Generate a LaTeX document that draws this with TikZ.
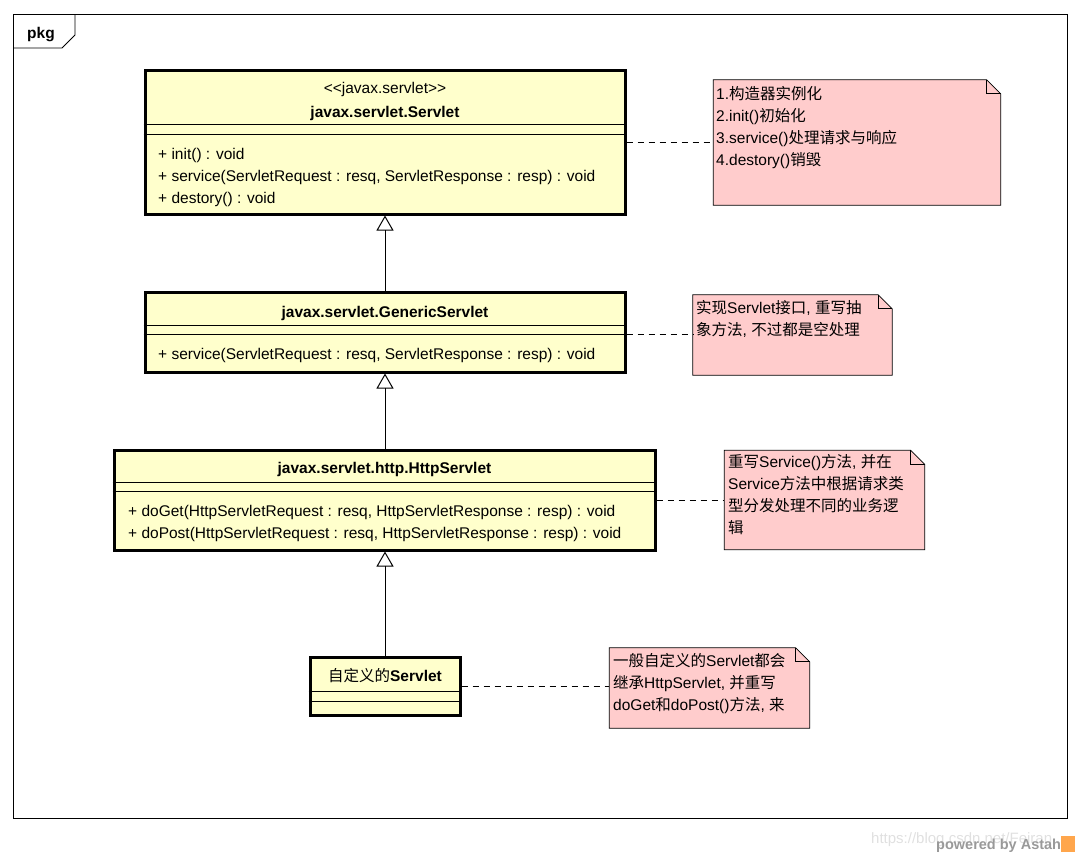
\documentclass[tikz,border=0pt]{standalone}
\usepackage{fontspec}
\setmainfont{Liberation Sans}
\newfontfamily\cjk{Noto Sans CJK SC}
\usepackage{tikz}
\usetikzlibrary{arrows.meta}

\definecolor{classyellow}{HTML}{FFFFCC}
\definecolor{notepink}{HTML}{FFCCCC}

\newcommand{\zh}[1]{{\cjk\mdseries #1}}
% dog-eared note drawn round an empty node
\newcommand{\notefold}[1]{%
  \draw[notebg] (#1.north west) -- ([xshift=-14pt]#1.north east) -- ([yshift=-14pt]#1.north east)
    -- (#1.south east) -- (#1.south west) -- cycle;
  \draw[line width=0.8pt] ([xshift=-14pt]#1.north east) |- ([yshift=-14pt]#1.north east);
}

\begin{document}
\begin{tikzpicture}[x=1pt, y=-1pt,
    cls/.style={draw, line width=3pt, fill=classyellow, inner sep=0},
    notebox/.style={inner sep=0},
    notebg/.style={draw, fill=notepink, line width=0.8pt},
    txt/.style={inner sep=0, text height=11pt, text depth=0pt, font=\fontsize{15.5}{22}\selectfont},
    clsname/.style={txt, font=\fontsize{15.5}{22}\selectfont\bfseries},
    inherit/.style={-{Triangle[open, length=15pt, width=17pt]}, line width=1pt},
    link/.style={dash pattern=on 6pt off 5pt, line width=1pt}]
        \useasboundingbox (0,0) rectangle (1080,857);

        % package frame
        \draw[line width=0.8pt] (13,14) rectangle (1067,818);
        \draw[line width=0.8pt] (13,48) -- (62,48) -- (75,35) -- (75,14);
        \node[clsname] (pkg) at (41,33) {pkg};

        % classes
        \node[cls, minimum width=480pt, minimum height=144pt] (servlet) at (385,142) {};
        \draw (servlet.west |- 0,124) -- (servlet.east |- 0,124);
        \draw (servlet.west |- 0,134) -- (servlet.east |- 0,134);
        \node[txt] (s-stereo) at (385,88) {<{}<javax.servlet>{}>};
        \node[clsname] (s-name) at (385,112) {javax.servlet.Servlet};
        \node[txt, anchor=west] (s-init) at (158,154) {+ init() : void};
        \node[txt, anchor=west] (s-service) at (158,176) {+ service(ServletRequest : resq, ServletResponse : resp) : void};
        \node[txt, anchor=west] (s-destory) at (158,198) {+ destory() : void};

        \node[cls, minimum width=480pt, minimum height=80pt] (generic) at (385,332) {};
        \draw (generic.west |- 0,325) -- (generic.east |- 0,325);
        \draw (generic.west |- 0,334) -- (generic.east |- 0,334);
        \node[clsname] (g-name) at (385,312) {javax.servlet.GenericServlet};
        \node[txt, anchor=west] (g-service) at (158,354) {+ service(ServletRequest : resq, ServletResponse : resp) : void};

        \node[cls, minimum width=541pt, minimum height=100pt] (http) at (384.5,500) {};
        \draw (http.west |- 0,482) -- (http.east |- 0,482);
        \draw (http.west |- 0,491) -- (http.east |- 0,491);
        \node[clsname] (h-name) at (384.5,468) {javax.servlet.http.HttpServlet};
        \node[txt, anchor=west] (h-doget) at (128,511) {+ doGet(HttpServletRequest : resq, HttpServletResponse : resp) : void};
        \node[txt, anchor=west] (h-dopost) at (128,533) {+ doPost(HttpServletRequest : resq, HttpServletResponse : resp) : void};

        \node[cls, minimum width=150pt, minimum height=58pt] (custom) at (385,686) {};
        \draw (custom.west |- 0,691) -- (custom.east |- 0,691);
        \draw (custom.west |- 0,701) -- (custom.east |- 0,701);
        \node[clsname] (c-name) at (385,676) {\zh{自定义的}Servlet};

        % generalizations
        \draw[inherit] (generic.north) -- (servlet.south);
        \draw[inherit] (http.north -| generic.south) -- (generic.south);
        \draw[inherit] (custom.north) -- (custom.north |- http.south);

        % notes
        \node[notebox, minimum width=287pt, minimum height=125pt] (n1) at (857,142.5) {};
        \notefold{n1}
        \node[txt, anchor=west] (n1-a) at (716,94) {1.\zh{构造器实例化}};
        \node[txt, anchor=west] (n1-b) at (716,116) {2.init()\zh{初始化}};
        \node[txt, anchor=west] (n1-c) at (716,138) {3.service()\zh{处理请求与响应}};
        \node[txt, anchor=west] (n1-d) at (716,160) {4.destory()\zh{销毁}};

        \node[notebox, minimum width=199pt, minimum height=80pt] (n2) at (792.5,335) {};
        \notefold{n2}
        \node[txt, anchor=west] (n2-a) at (696,308) {\zh{实现}Servlet\zh{接口}, \zh{重写抽}};
        \node[txt, anchor=west] (n2-b) at (696,330) {\zh{象方法}, \zh{不过都是空处理}};

        \node[notebox, minimum width=200pt, minimum height=99pt] (n3) at (824.5,500) {};
        \notefold{n3}
        \node[txt, anchor=west] (n3-a) at (728,462) {\zh{重写}Service()\zh{方法}, \zh{并在}};
        \node[txt, anchor=west] (n3-b) at (728,484) {Service\zh{方法中根据请求类}};
        \node[txt, anchor=west] (n3-c) at (728,506) {\zh{型分发处理不同的业务逻}};
        \node[txt, anchor=west] (n3-d) at (728,528) {\zh{辑}};

        \node[notebox, minimum width=200pt, minimum height=80pt] (n4) at (709.5,688) {};
        \notefold{n4}
        \node[txt, anchor=west] (n4-a) at (613,661) {\zh{一般自定义的}Servlet\zh{都会}};
        \node[txt, anchor=west] (n4-b) at (613,683) {\zh{继承}HttpServlet, \zh{并重写}};
        \node[txt, anchor=west] (n4-c) at (613,705) {doGet\zh{和}doPost()\zh{方法}, \zh{来}};

        % note links
        \draw[link] (servlet.east) -- (servlet.east -| n1.west);
        \draw[link] ([yshift=-2pt]generic.east) -- ([yshift=-2pt]generic.east -| n2.west);
        \draw[link] (http.east) -- (http.east -| n3.west);
        \draw[link] (custom.east) -- (custom.east -| n4.west);

        % watermarks
        \node[font=\fontsize{15}{18}\selectfont, text=black!12, inner sep=0, anchor=west] (wm) at (871,840) {https://blog.csdn.net/Feiran};
        \node[font=\fontsize{14.5}{18}\selectfont\bfseries, text=black!40, inner sep=0, anchor=west] (astah) at (936,846) {powered by Astah};
        \node[fill=orange!70, minimum width=14pt, minimum height=16pt, inner sep=0] (logo) at (1068,844) {};
    \end{tikzpicture}
\end{document}
